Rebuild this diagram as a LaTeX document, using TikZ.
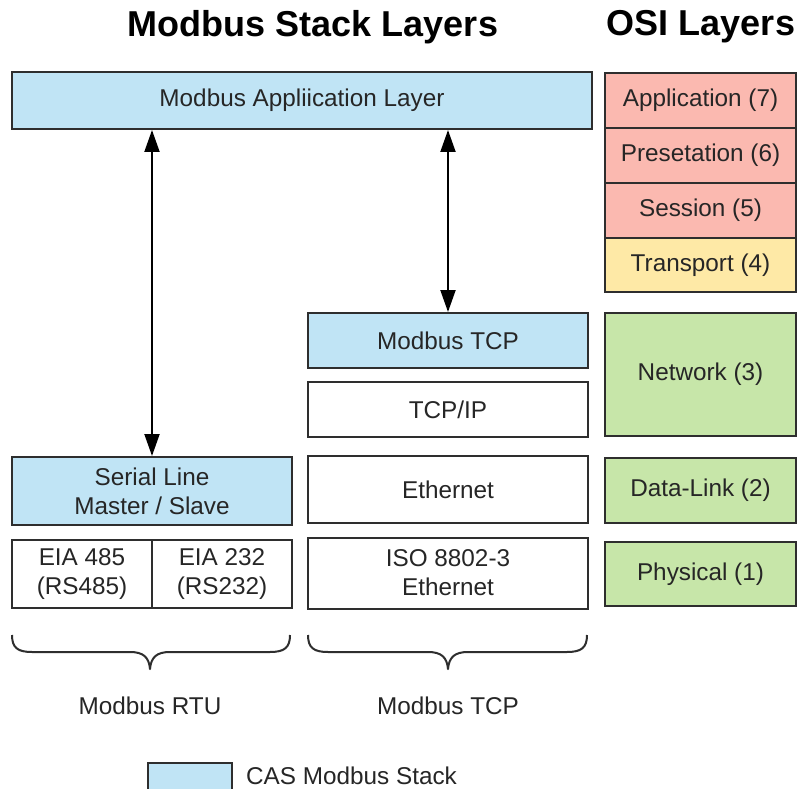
\documentclass[tikz,border=0pt]{standalone}
\usepackage{fontspec}
\setmainfont{Liberation Sans}
\usetikzlibrary{arrows.meta}
\definecolor{stackblue}{HTML}{C0E4F5}
\definecolor{osired}{HTML}{FBB9B0}
\definecolor{osiyellow}{HTML}{FEE9A6}
\definecolor{osigreen}{HTML}{C7E6A9}
\definecolor{edge}{HTML}{2E2E2E}
\definecolor{ink}{HTML}{262626}
\tikzset{
  layer/.style={draw=edge, line width=2pt, rectangle, inner sep=0pt, align=center,
    text=ink, font=\fontsize{24.3}{29}\selectfont},
  cas/.style={layer, fill=stackblue},
  plain/.style={layer, fill=white},
  upper/.style={layer, fill=osired},
  transp/.style={layer, fill=osiyellow},
  lower/.style={layer, fill=osigreen},
  heading/.style={font=\fontsize{36}{40}\selectfont\bfseries, text=black},
  caption/.style={font=\fontsize{24.3}{29}\selectfont, text=ink},
  link/.style={line width=2pt, {Triangle[length=22pt,width=15pt]}-{Triangle[length=22pt,width=15pt]}},
  bracepath/.style={line width=2pt, draw=edge, line join=round}
}
\begin{document}
\begin{tikzpicture}[x=1pt,y=-1pt]
\clip (0,0) rectangle (798,789);
\fill[white] (0,0) rectangle (798,789);

% headings
\node[heading] (ttlstack) at (313,27) {Modbus Stack Layers};
\node[heading] (ttlosi) at (701,27) {OSI Layers};

% Modbus stack
\node[cas, minimum width=580pt, minimum height=57pt] (app) at (302,100.5) {Modbus Appliication Layer};
\node[cas, minimum width=280pt, minimum height=55pt] (mtcp) at (448,340.5) {Modbus TCP};
\node[plain, minimum width=280pt, minimum height=55pt] (tcpip) at (448,409.5) {TCP/IP};
\node[plain, minimum width=280pt, minimum height=67pt] (eth) at (448,489.5) {Ethernet};
\node[plain, minimum width=280pt, minimum height=71pt] (iso) at (448,573) {ISO 8802-3\\Ethernet};
\node[cas, minimum width=280pt, minimum height=68pt] (serial) at (152,491) {Serial Line\\Master / Slave};
\node[plain, minimum width=140pt, minimum height=68pt] (eia485) at (82,574) {EIA 485\\(RS485)};
\node[plain, minimum width=140pt, minimum height=68pt] (eia232) at (222,574) {EIA 232\\(RS232)};

% OSI layers
\node[upper, minimum width=191pt, minimum height=55pt] (l7) at (700.5,100.5) {Application (7)};
\node[upper, minimum width=191pt, minimum height=55pt] (l6) at (700.5,155.5) {Presetation (6)};
\node[upper, minimum width=191pt, minimum height=55pt] (l5) at (700.5,210.5) {Session (5)};
\node[transp, minimum width=191pt, minimum height=54pt] (l4) at (700.5,265) {Transport (4)};
\node[lower, minimum width=191pt, minimum height=123pt] (l3) at (700.5,374.5) {Network (3)};
\node[lower, minimum width=191pt, minimum height=65pt] (l2) at (700.5,490.5) {Data-Link (2)};
\node[lower, minimum width=191pt, minimum height=64pt] (l1) at (700.5,574) {Physical (1)};

% connections between stack layers
\draw[link] (app.south -| serial.north) -- (serial.north);
\draw[link] (app.south -| mtcp.north) -- (mtcp.north);

% braces grouping the two stacks
\draw[bracepath] (12,635) .. controls (12,648) and (18,652) .. (32,652) -- (130,652)
  .. controls (143,652) and (149,657) .. (150,669)
  .. controls (151,657) and (157,652) .. (170,652) -- (270,652)
  .. controls (284,652) and (290,648) .. (290,635);
\draw[bracepath] (308,635) .. controls (308,648) and (314,652) .. (328,652) -- (428,652)
  .. controls (441,652) and (447,657) .. (448,669)
  .. controls (449,657) and (455,652) .. (468,652) -- (567,652)
  .. controls (581,652) and (587,648) .. (587,635);
\node[caption] (rtu) at (150,706) {Modbus RTU};
\node[caption] (tcp) at (448,706) {Modbus TCP};

% legend
\node[cas, minimum width=84pt, minimum height=40pt] (key) at (190,783) {};
\node[caption, anchor=west, inner sep=0pt] (keytext) at (246,776) {CAS Modbus Stack};
\end{tikzpicture}
\end{document}
